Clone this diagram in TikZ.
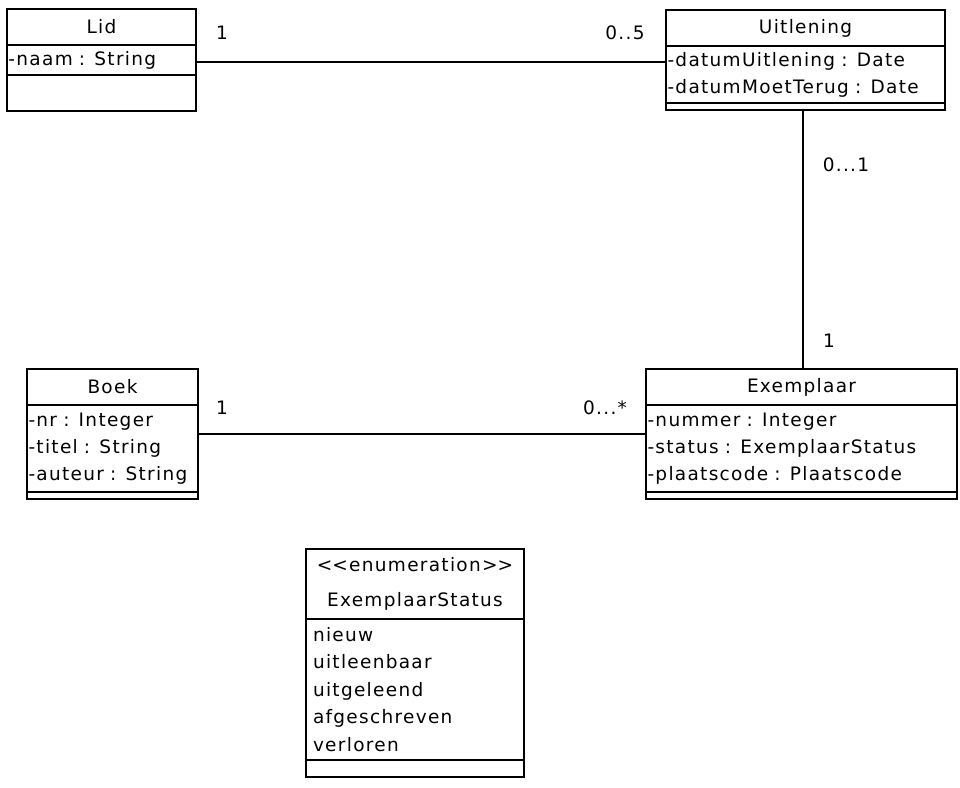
\documentclass[tikz,border=0pt]{standalone}
\usepackage{fontspec}
\setmainfont{DejaVu Sans}[LetterSpace=7]
\begin{document}
\begin{tikzpicture}[x=1pt,y=-1pt,
  part/.style={draw, line width=1.4pt, inner sep=0pt, outer sep=0pt,
    anchor=north west, font=\fontsize{18.5}{27}\selectfont},
  ctitle/.style={part, align=center},
  attrs/.style={part, align=left, inner xsep=1.5pt},
  enumattrs/.style={part, align=left, inner xsep=7pt},
  assoc/.style={line width=1.4pt},
  mult/.style={font=\fontsize{18.5}{20}\selectfont, inner sep=0pt}]
\useasboundingbox (0,0) rectangle (960,787);

% Lid
\node[ctitle, minimum width=189pt, minimum height=36pt] (lidT) at (7,9) {Lid};
\node[attrs, minimum width=189pt, minimum height=30pt, text width=186pt] (lidA) at (lidT.south west) {-naam : String};
\node[part, minimum width=189pt, minimum height=36pt] (lidO) at (lidA.south west) {};

% Uitlening
\node[ctitle, minimum width=279pt, minimum height=36pt] (uitT) at (666,10) {Uitlening};
\node[attrs, minimum width=279pt, minimum height=57pt, text width=276pt] (uitA) at (uitT.south west)
  {-datumUitlening : Date\\-datumMoetTerug : Date};
\node[part, minimum width=279pt, minimum height=7pt] (uitO) at (uitA.south west) {};

% Boek
\node[ctitle, minimum width=171pt, minimum height=36pt] (boekT) at (27,369) {Boek};
\node[attrs, minimum width=171pt, minimum height=87pt, text width=168pt] (boekA) at (boekT.south west)
  {-nr : Integer\\-titel : String\\-auteur : String};
\node[part, minimum width=171pt, minimum height=7pt] (boekO) at (boekA.south west) {};

% Exemplaar
\node[ctitle, minimum width=311pt, minimum height=36pt] (exT) at (646,369) {Exemplaar};
\node[attrs, minimum width=311pt, minimum height=87pt, text width=308pt] (exA) at (exT.south west)
  {-nummer : Integer\\-status : ExemplaarStatus\\-plaatscode : Plaatscode};
\node[part, minimum width=311pt, minimum height=7pt] (exO) at (exA.south west) {};

% ExemplaarStatus enumeration
\node[part, align=center, minimum width=218pt, minimum height=70pt,
  font=\fontsize{18.5}{35}\selectfont] (enT) at (306,549)
  {<\kern0pt<enumeration>\kern0pt>\\ExemplaarStatus};
\node[enumattrs, minimum width=218pt, minimum height=141pt, text width=204pt,
  font=\fontsize{18.5}{27.5}\selectfont] (enA) at (enT.south west)
  {nieuw\\uitleenbaar\\uitgeleend\\afgeschreven\\verloren};
\node[part, minimum width=218pt, minimum height=17pt] (enO) at (enA.south west) {};

% associations
\draw[assoc] (lidA.east |- 0,62) -- (uitA.west |- 0,62);
\draw[assoc] (uitO.south -| 803,0) -- (exT.north -| 803,0);
\draw[assoc] (boekA.east |- 0,434) -- (exA.west |- 0,434);

% multiplicities
\node[mult] (m1) at (222,33) {1};
\node[mult] (m2) at (625,33) {0..5};
\node[mult] (m3) at (846,165) {0...1};
\node[mult] (m4) at (829,341) {1};
\node[mult] (m5) at (222,408) {1};
\node[mult] (m6) at (605,408) {0...*};
\end{tikzpicture}
\end{document}
